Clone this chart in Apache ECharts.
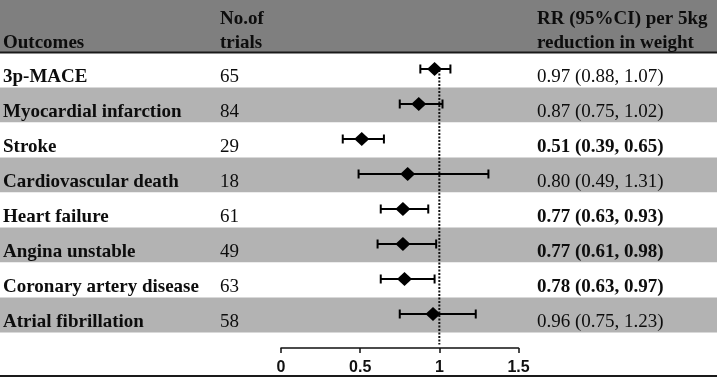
<!DOCTYPE html>
<html>
<head>
<meta charset="utf-8">
<script src="https://cdn.jsdelivr.net/npm/echarts@6/dist/echarts.min.js"></script>
<style>
html,body{margin:0;padding:0;background:#fff;}
#chart{width:719px;height:379px;}
</style>
</head>
<body>
<div id="chart"></div>
<script>
// ---- data ----
const outcomes = ['3p-MACE','Myocardial infarction','Stroke','Cardiovascular death','Heart failure','Angina unstable','Coronary artery disease','Atrial fibrillation'];
const trials = [65, 84, 29, 18, 61, 49, 63, 58];
const rr = [0.97, 0.87, 0.51, 0.80, 0.77, 0.77, 0.78, 0.96];
const ciLow = [0.88, 0.75, 0.39, 0.49, 0.63, 0.61, 0.63, 0.75];
const ciHigh = [1.07, 1.02, 0.65, 1.31, 0.93, 0.98, 0.97, 1.23];
const significant = [false, false, true, false, true, true, true, false];
const xTickValues = [0, 0.5, 1, 1.5];
const headerCol1 = ['Outcomes'];
const headerCol2 = ['No.of', 'trials'];
const headerCol3 = ['RR (95%CI) per 5kg', 'reduction in weight'];
const refValue = 1;

// ---- styling / layout ----
const SERIF = '"Liberation Serif", "Times New Roman", serif';
const TXT = '#0d0d0d';
const ROW_TOP = 52.5, ROW_H = 280;
const COL1_X = 3, COL2_X = 220, COL3_X = 537;
const TEXT_DY = 7.5;

const chart = echarts.init(document.getElementById('chart'), null, {renderer: 'canvas'});

function rrText(i) {
  return rr[i].toFixed(2) + ' (' + ciLow[i].toFixed(2) + ', ' + ciHigh[i].toFixed(2) + ')';
}

const option = {
  animation: false,
  backgroundColor: '#ffffff',
  grid: [
    {left: 0, right: 2, top: ROW_TOP, height: ROW_H},
    {left: 281, width: 237.5, top: ROW_TOP, height: ROW_H}
  ],
  xAxis: [
    {gridIndex: 0, type: 'value', min: 0, max: 717, show: false},
    {gridIndex: 1, type: 'value', min: xTickValues[0], max: xTickValues[xTickValues.length-1], interval: 0.5,
     position: 'bottom', offset: 15.5,
     axisLine: {show: true, lineStyle: {color: '#111', width: 1.5}},
     axisTick: {show: true, length: 5, lineStyle: {color: '#111', width: 1.5}},
     splitLine: {show: false},
     axisLabel: {color: '#111', fontFamily: '"Liberation Sans", Arial, sans-serif', fontWeight: 'bold', fontSize: 16, margin: 12,
       formatter: v => String(v)}
    }
  ],
  yAxis: [
    {gridIndex: 0, type: 'category', data: outcomes, inverse: true,
     axisLine: {show: false}, axisTick: {show: false}, axisLabel: {show: false},
     splitLine: {show: false},
     splitArea: {show: true, areaStyle: {color: ['#ffffff', '#b3b3b3']}}
    },
    {gridIndex: 1, type: 'category', data: outcomes, inverse: true, show: false}
  ],
  graphic: [
    {type: 'rect', shape: {x: 0, y: 0, width: 717, height: 52}, style: {fill: '#7f7f7f'}, z: 0},
    {type: 'line', shape: {x1: 0, y1: 52.5, x2: 717, y2: 52.5}, style: {stroke: '#1a1a1a', lineWidth: 2}, z: 5},
    {type: 'line', shape: {x1: 0, y1: 376, x2: 717, y2: 376}, style: {stroke: '#1a1a1a', lineWidth: 2}, z: 5},
    {type: 'text', x: COL1_X, y: 43, style: {text: headerCol1[0], font: 'bold 19px ' + SERIF, fill: TXT, verticalAlign: 'middle'}, z: 6},
    {type: 'text', x: COL2_X, y: 19.5, style: {text: headerCol2[0], font: 'bold 19px ' + SERIF, fill: TXT, verticalAlign: 'middle'}, z: 6},
    {type: 'text', x: COL2_X, y: 43, style: {text: headerCol2[1], font: 'bold 19px ' + SERIF, fill: TXT, verticalAlign: 'middle'}, z: 6},
    {type: 'text', x: COL3_X, y: 19.5, style: {text: headerCol3[0], font: 'bold 19px ' + SERIF, fill: TXT, verticalAlign: 'middle'}, z: 6},
    {type: 'text', x: COL3_X, y: 43, style: {text: headerCol3[1], font: 'bold 19px ' + SERIF, fill: TXT, verticalAlign: 'middle'}, z: 6}
  ],
  series: [
    {
      type: 'custom', xAxisIndex: 0, yAxisIndex: 0, silent: true,
      data: outcomes.map((o, i) => [0, i]),
      renderItem: function (params, api) {
        const i = api.value(1);
        const y = api.coord([0, i])[1] + TEXT_DY;
        return {type: 'group', children: [
          {type: 'text', x: COL1_X, y: y, style: {text: outcomes[i], font: 'bold 19px ' + SERIF, fill: TXT, verticalAlign: 'middle'}},
          {type: 'text', x: COL2_X, y: y, style: {text: String(trials[i]), font: '19px ' + SERIF, fill: TXT, verticalAlign: 'middle'}},
          {type: 'text', x: COL3_X, y: y, style: {text: rrText(i), font: (significant[i] ? 'bold ' : '') + '19px ' + SERIF, fill: TXT, verticalAlign: 'middle'}}
        ]};
      }
    },
    {
      type: 'custom', xAxisIndex: 1, yAxisIndex: 1, silent: true, z: 3,
      data: [[refValue, 0]],
      renderItem: function (params, api) {
        const top = api.coord([api.value(0), 0]);
        const bottom = params.coordSys.y + params.coordSys.height + 12;
        return {type: 'line', shape: {x1: top[0], y1: top[1], x2: top[0], y2: bottom},
          style: {stroke: '#111', lineWidth: 2, lineDash: [2, 1.5]}};
      }
    },
    {
      type: 'custom', xAxisIndex: 1, yAxisIndex: 1, silent: true, z: 4,
      data: outcomes.map((o, i) => [ciLow[i], ciHigh[i], i]),
      renderItem: function (params, api) {
        const a = api.coord([api.value(0), api.value(2)]);
        const b = api.coord([api.value(1), api.value(2)]);
        const y = a[1] - 1;
        const cap = 4.5;
        const st = {stroke: '#000', lineWidth: 2};
        return {type: 'group', children: [
          {type: 'line', shape: {x1: a[0], y1: y, x2: b[0], y2: y}, style: st},
          {type: 'line', shape: {x1: a[0], y1: y - cap, x2: a[0], y2: y + cap}, style: st},
          {type: 'line', shape: {x1: b[0], y1: y - cap, x2: b[0], y2: y + cap}, style: st}
        ]};
      }
    },
    {
      type: 'scatter', xAxisIndex: 1, yAxisIndex: 1, silent: true, z: 5,
      symbol: 'diamond', symbolSize: [15, 14], symbolOffset: [0, -1],
      itemStyle: {color: '#000', opacity: 1},
      data: rr.map((v, i) => [v, i])
    }
  ]
};
chart.setOption(option);
</script>
</body>
</html>
